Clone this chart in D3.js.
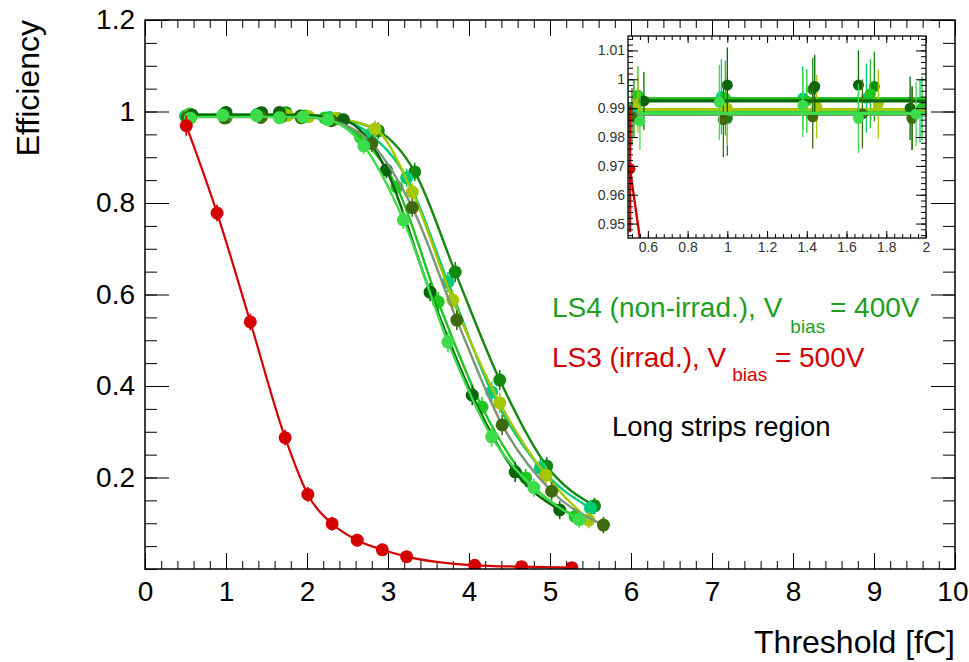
<!DOCTYPE html>
<html>
<head>
<meta charset="utf-8">
<script src="https://cdn.jsdelivr.net/npm/d3@7"></script>
<style>
  html, body { margin: 0; padding: 0; background: #fff; }
  svg { display: block; }
  text { font-family: 'Liberation Sans', Arial, Helvetica, sans-serif; }
</style>
</head>
<body>
<svg id="chart" width="969" height="662"></svg>
<script>
// ---------------- data ----------------
// LS4 (non-irradiated) modules: threshold [fC] and efficiency per module
const ls4Colors     = ["#128a12", "#00cc77", "#1ec81e", "#a5c800", "#0b650b", "#3f6a0f", "#3ddc4a"];
const ls4LineColors = ["#128a12", "#00cc77", "#1ec81e", "#a5c800", "#0b650b", "#7a957a", "#3ddc4a"];
const ls4Plateaus   = [0.9932, 0.9888, 0.9932, 0.9895, 0.9925, 0.9878, 0.9882];

const ls4Thr1 = [0.53, 1.00, 1.43, 1.74, 1.93, 2.38, 2.88, 3.33, 3.83, 4.38, 4.96, 5.55];
const ls4Eff1 = [0.990, 0.9865, 0.9965, 0.9975, 0.9865, 0.984, 0.958, 0.868, 0.649, 0.413, 0.225, 0.138];
const ls4Thr2 = [0.50, 0.97, 1.38, 1.70, 1.97, 2.28, 2.78, 3.23, 3.74, 4.28, 4.88, 5.50];
const ls4Eff2 = [0.990, 0.994, 0.9935, 0.9935, 0.989, 0.987, 0.950, 0.855, 0.627, 0.387, 0.221, 0.133];
const ls4Thr3 = [0.55, 0.99, 1.40, 1.72, 1.98, 2.22, 2.66, 3.11, 3.62, 4.16, 4.70, 5.31];
const ls4Eff3 = [0.9945, 0.9935, 0.9925, 0.9950, 0.9900, 0.986, 0.944, 0.835, 0.584, 0.354, 0.199, 0.115];
const ls4Thr4 = [0.55, 1.00, 1.45, 1.76, 2.02, 2.35, 2.84, 3.30, 3.80, 4.38, 4.95, 5.48];
const ls4Eff4 = [0.9915, 0.9900, 0.9905, 0.9915, 0.989, 0.985, 0.962, 0.824, 0.588, 0.363, 0.205, 0.107];
const ls4Thr5 = [0.58, 1.00, 1.44, 1.66, 1.92, 2.45, 2.98, 3.52, 4.04, 4.57, 5.12];
const ls4Eff5 = [0.9925, 0.998, 0.9975, 0.998, 0.990, 0.982, 0.872, 0.605, 0.380, 0.212, 0.129];
const ls4Thr6 = [0.52, 0.98, 1.43, 1.68, 1.93, 2.30, 2.80, 3.30, 3.85, 4.41, 5.02, 5.66];
const ls4Eff6 = [0.987, 0.986, 0.987, 0.988, 0.9865, 0.980, 0.930, 0.790, 0.544, 0.315, 0.170, 0.096];
const ls4Thr7 = [0.56, 0.96, 1.38, 1.66, 1.95, 2.26, 2.70, 3.19, 3.74, 4.28, 4.80, 5.36];
const ls4Eff7 = [0.9855, 0.992, 0.991, 0.9865, 0.988, 0.982, 0.925, 0.763, 0.496, 0.289, 0.178, 0.108];
// statistical uncertainty on efficiency, by threshold step
const ls4EffErr = [0.010, 0.013, 0.011, 0.012, 0.011, 0.012, 0.018, 0.020, 0.022, 0.022, 0.020, 0.018];

// LS3 (irradiated) module
const ls3Color = "#d40000";
const ls3Thr    = [0.51, 0.89, 1.30, 1.73, 2.01, 2.31, 2.62, 2.93, 3.23, 4.07, 4.65, 5.27];
const ls3Eff    = [0.969, 0.778, 0.540, 0.287, 0.163, 0.099, 0.063, 0.042, 0.027, 0.008, 0.005, 0.003];
const ls3EffErr = [0.022, 0.018, 0.018, 0.017, 0.016, 0.015, 0.014, 0.013, 0.011, 0.007, 0.005, 0.004];
const thrErr = 0.02;

// axis ticks
const xMajor = d3.range(0, 10.001, 1);
const xMinor = d3.range(0, 10.001, 0.2);
const yMajor = [0.2, 0.4, 0.6, 0.8, 1.0, 1.2];
const yMinor = d3.range(0, 1.2001, 0.05);
const insetXMajor = [0.6, 0.8, 1.0, 1.2, 1.4, 1.6, 1.8, 2.0];
const insetXMinor = d3.range(0.52, 2.0001, 0.04);
const insetYMajor = [0.95, 0.96, 0.97, 0.98, 0.99, 1.00, 1.01];
const insetYMinor = d3.range(0.946, 1.0141, 0.002);

const ls4Thr = [ls4Thr1, ls4Thr2, ls4Thr3, ls4Thr4, ls4Thr5, ls4Thr6, ls4Thr7];
const ls4Eff = [ls4Eff1, ls4Eff2, ls4Eff3, ls4Eff4, ls4Eff5, ls4Eff6, ls4Eff7];

// ---------------- layout ----------------
const svg = d3.select("#chart");
const W = 969, H = 662;
const M = { left: 145, right: 955, top: 20, bottom: 569 };
const I = { left: 628, right: 926, top: 36, bottom: 238 };

const x = d3.scaleLinear().domain([0, 10]).range([M.left, M.right]);
const y = d3.scaleLinear().domain([0, 1.2]).range([M.bottom, M.top]);
const xi = d3.scaleLinear().domain([0.5, 2.0]).range([I.left, I.right]);
const yi = d3.scaleLinear().domain([0.945, 1.015]).range([I.bottom, I.top]);

const fmt = d3.format(".2~f");

// build the point list of a module
function points(thr, eff, errs) {
  return thr.map((t, i) => ({ x: t, y: eff[i], ey: errs[i], ex: thrErr }));
}
// fit curve: flat efficiency plateau, then following the turn-on measurements
function fitLine(pts, plateau) {
  return pts.map(p => [p.x, p.x < 2.1 ? plateau : p.y]);
}

function drawSeries(g, sx, sy, pts, linePts, markColor, lineColor, opts) {
  const line = d3.line().x(d => sx(d[0])).y(d => sy(d[1])).curve(d3.curveMonotoneX);
  g.append("path").attr("d", line(linePts))
    .attr("fill", "none").attr("stroke", lineColor).attr("stroke-width", opts.lw)
    .attr("stroke-linejoin", "round");
  const e = g.append("g").attr("stroke", markColor).attr("stroke-width", opts.ew);
  pts.forEach(p => {
    e.append("line").attr("x1", sx(p.x)).attr("x2", sx(p.x))
      .attr("y1", sy(p.y - p.ey)).attr("y2", sy(p.y + p.ey));
    e.append("line").attr("x1", sx(p.x - p.ex)).attr("x2", sx(p.x + p.ex))
      .attr("y1", sy(p.y)).attr("y2", sy(p.y));
  });
  g.append("g").selectAll("circle").data(pts).join("circle")
    .attr("cx", d => sx(d.x)).attr("cy", d => sy(d.y)).attr("r", opts.r)
    .attr("fill", markColor);
}

function ticks(g, axisFn, scale, values, size, withLabels, fontSize, pad) {
  const a = axisFn(scale).tickValues(values).tickSize(size).tickSizeOuter(0);
  if (withLabels) a.tickFormat(fmt).tickPadding(pad); else a.tickFormat("");
  const sel = g.call(a);
  sel.select(".domain").remove();
  sel.selectAll(".tick line").attr("stroke", "#000").attr("stroke-width", 1);
  sel.selectAll(".tick text").attr("fill", "#000").attr("font-size", fontSize)
    .attr("font-family", "'Liberation Sans', Arial, Helvetica, sans-serif");
  return sel;
}

// ---------------- main frame ----------------
svg.append("rect").attr("width", W).attr("height", H).attr("fill", "#fff");

const main = svg.append("g");
const clipMain = svg.append("clipPath").attr("id", "clipMain");
clipMain.append("rect").attr("x", M.left).attr("y", M.top)
  .attr("width", M.right - M.left).attr("height", M.bottom - M.top);

// ticks: bottom, top, left, right (all pointing inwards)
ticks(main.append("g").attr("transform", `translate(0,${M.bottom})`), d3.axisBottom, x, xMinor, -8, false);
const xLab = ticks(main.append("g").attr("transform", `translate(0,${M.bottom})`), d3.axisBottom, x, xMajor, -16, true, 28, 26);
ticks(main.append("g").attr("transform", `translate(0,${M.top})`), d3.axisTop, x, xMinor, -8, false);
ticks(main.append("g").attr("transform", `translate(0,${M.top})`), d3.axisTop, x, xMajor, -16, false);
ticks(main.append("g").attr("transform", `translate(${M.left},0)`), d3.axisLeft, y, yMinor, -12, false);
ticks(main.append("g").attr("transform", `translate(${M.left},0)`), d3.axisLeft, y, yMajor, -24, true, 28, 10);
ticks(main.append("g").attr("transform", `translate(${M.right},0)`), d3.axisRight, y, yMinor, -12, false);
ticks(main.append("g").attr("transform", `translate(${M.right},0)`), d3.axisRight, y, yMajor, -24, false);
xLab.selectAll(".tick text").attr("dy", "0.2em");
// keep the last label inside the canvas
xLab.selectAll(".tick text").filter(d => d === 10).attr("text-anchor", "end").attr("x", 13);

// data
const plot = main.append("g").attr("clip-path", "url(#clipMain)");
ls4Thr.forEach((thr, k) => {
  const pts = points(thr, ls4Eff[k], ls4EffErr);
  drawSeries(plot.append("g"), x, y, pts, fitLine(pts, ls4Plateaus[k]),
    ls4Colors[k], ls4LineColors[k], { lw: 2.4, ew: 1.6, r: 6.5 });
});
{
  const pts = points(ls3Thr, ls3Eff, ls3EffErr);
  drawSeries(plot.append("g"), x, y, pts, pts.map(p => [p.x, p.y]),
    ls3Color, ls3Color, { lw: 2.2, ew: 1.8, r: 6.5 });
}

main.append("rect").attr("x", M.left).attr("y", M.top)
  .attr("width", M.right - M.left).attr("height", M.bottom - M.top)
  .attr("fill", "none").attr("stroke", "#000").attr("stroke-width", 1.5);

// axis titles
svg.append("text").attr("transform", `translate(39,${M.top}) rotate(-90)`)
  .attr("text-anchor", "end").attr("font-size", 32).attr("fill", "#000").text("Efficiency");
svg.append("text").attr("x", M.right).attr("y", 653)
  .attr("text-anchor", "end").attr("font-size", 32).attr("fill", "#000").text("Threshold [fC]");

// legend
const leg1 = svg.append("text").attr("x", 552).attr("y", 317).attr("font-size", 28).attr("fill", "#1e9e1e");
leg1.append("tspan").text("LS4 (non-irrad.), V");
leg1.append("tspan").attr("dx", 8).attr("dy", 16).attr("font-size", 19).text("bias");
leg1.append("tspan").attr("dx", -3).attr("dy", -16).text(" = 400V");
const leg2 = svg.append("text").attr("x", 552).attr("y", 367).attr("font-size", 28).attr("fill", ls3Color);
leg2.append("tspan").text("LS3 (irrad.), V");
leg2.append("tspan").attr("dx", 6).attr("dy", 14).attr("font-size", 19).text("bias");
leg2.append("tspan").attr("dy", -14).text(" = 500V");
svg.append("text").attr("x", 612).attr("y", 436).attr("font-size", 27.5).attr("fill", "#000")
  .text("Long strips region");

// ---------------- inset: plateau region ----------------
const inset = svg.append("g");
inset.append("rect").attr("x", I.left).attr("y", I.top)
  .attr("width", I.right - I.left).attr("height", I.bottom - I.top).attr("fill", "#fff");
const clipIn = svg.append("clipPath").attr("id", "clipInset");
clipIn.append("rect").attr("x", I.left).attr("y", I.top)
  .attr("width", I.right - I.left).attr("height", I.bottom - I.top);
const iplot = inset.append("g").attr("clip-path", "url(#clipInset)");
ls4Thr.forEach((thr, k) => {
  const pts = points(thr, ls4Eff[k], ls4EffErr);
  drawSeries(iplot.append("g"), xi, yi, pts, fitLine(pts, ls4Plateaus[k]),
    ls4Colors[k], ls4LineColors[k], { lw: 3.2, ew: 1.3, r: 5.5 });
});
{
  const pts = points(ls3Thr, ls3Eff, ls3EffErr);
  drawSeries(iplot.append("g"), xi, yi, pts, pts.map(p => [p.x, p.y]),
    ls3Color, ls3Color, { lw: 2.4, ew: 2.6, r: 5.5 });
}

ticks(inset.append("g").attr("transform", `translate(0,${I.bottom})`), d3.axisBottom, xi, insetXMinor, -4, false);
ticks(inset.append("g").attr("transform", `translate(0,${I.bottom})`), d3.axisBottom, xi, insetXMajor, -7, true, 14, 4)
  .selectAll(".tick text").attr("fill", "#333");
ticks(inset.append("g").attr("transform", `translate(0,${I.top})`), d3.axisTop, xi, insetXMinor, -4, false);
ticks(inset.append("g").attr("transform", `translate(0,${I.top})`), d3.axisTop, xi, insetXMajor, -7, false);
ticks(inset.append("g").attr("transform", `translate(${I.left},0)`), d3.axisLeft, yi, insetYMinor, -5, false);
ticks(inset.append("g").attr("transform", `translate(${I.left},0)`), d3.axisLeft, yi, insetYMajor, -10, true, 14, 3)
  .selectAll(".tick text").attr("fill", "#333");
ticks(inset.append("g").attr("transform", `translate(${I.right},0)`), d3.axisRight, yi, insetYMinor, -5, false);
ticks(inset.append("g").attr("transform", `translate(${I.right},0)`), d3.axisRight, yi, insetYMajor, -10, false);
inset.append("rect").attr("x", I.left).attr("y", I.top)
  .attr("width", I.right - I.left).attr("height", I.bottom - I.top)
  .attr("fill", "none").attr("stroke", "#000").attr("stroke-width", 1.3);
</script>
</body>
</html>
